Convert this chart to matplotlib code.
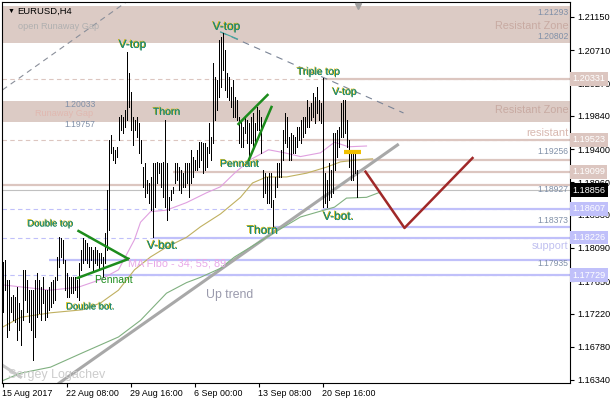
import matplotlib
matplotlib.use("Agg")
import matplotlib.pyplot as plt
import matplotlib.patheffects as pe
import matplotlib.transforms as mtransforms

plt.rcParams['font.family'] = ['Liberation Sans', 'DejaVu Sans']

# EURUSD H4 bars, high / low, bar 0 = 15 Aug 2017 00:00
bar_high = [
    1.1790, 1.1793, 1.1767, 1.1767, 1.1744, 1.1747, 1.1744, 1.1757, 1.1736, 1.1727,
    1.1780, 1.1780, 1.1767, 1.1753, 1.1753, 1.1753, 1.1767, 1.1776, 1.1767, 1.1757,
    1.1771, 1.1753, 1.1753, 1.1757, 1.1764, 1.1767, 1.1771, 1.1797, 1.1824, 1.1822,
    1.1820, 1.1793, 1.1776, 1.1771, 1.1771, 1.1771, 1.1771, 1.1767, 1.1789, 1.1806,
    1.1822, 1.1820, 1.1816, 1.1810, 1.1810, 1.1806, 1.1810, 1.1806, 1.1802, 1.1802,
    1.1797, 1.1829, 1.1886, 1.1952, 1.1959, 1.1943, 1.1939, 1.1943, 1.1983, 1.1985,
    1.1983, 1.1992, 1.2069, 1.2041, 1.2016, 1.1983, 1.1979, 1.1983, 1.1975, 1.1952,
    1.1916, 1.1922, 1.1899, 1.1895, 1.1903, 1.1922, 1.1922, 1.1923, 1.1922, 1.1922,
    1.1923, 1.1979, 1.1922, 1.1877, 1.1886, 1.1890, 1.1922, 1.1922, 1.1916, 1.1912,
    1.1908, 1.1922, 1.1922, 1.1922, 1.1939, 1.1930, 1.1926, 1.1939, 1.1949, 1.1949,
    1.1948, 1.1948, 1.1943, 1.1975, 1.1956, 1.2054, 1.2036, 1.2032, 1.2085, 1.2089,
    1.2094, 1.2071, 1.2041, 1.2036, 1.2022, 1.2032, 1.2009, 1.2005, 1.1983, 1.1979,
    1.1969, 1.1983, 1.1979, 1.1975, 1.1983, 1.1988, 1.1975, 1.1996, 1.1992, 1.1983,
    1.1912, 1.1908, 1.1903, 1.1908, 1.1908, 1.1873, 1.1903, 1.1922, 1.1922, 1.1939,
    1.1965, 1.1988, 1.1983, 1.1956, 1.1961, 1.1959, 1.1956, 1.1969, 1.1969, 1.1979,
    1.1983, 1.1983, 1.2005, 1.1996, 1.2001, 1.2014, 1.2009, 1.2022, 1.2005, 1.2001,
    1.2034, 1.1908, 1.1899, 1.1922, 1.1912, 1.1961, 1.1961, 1.1965, 1.1969, 1.2001,
    1.2005, 1.2005, 1.1979, 1.1952, 1.1935, 1.1939, 1.1935, 1.1912,
]
bar_low = [
    1.1724, 1.1753, 1.1691, 1.1700, 1.1724, 1.1714, 1.1711, 1.1687, 1.1700, 1.1680,
    1.1714, 1.1740, 1.1724, 1.1711, 1.1700, 1.1661, 1.1691, 1.1718, 1.1723, 1.1714,
    1.1736, 1.1714, 1.1718, 1.1727, 1.1731, 1.1736, 1.1740, 1.1767, 1.1784, 1.1797,
    1.1789, 1.1753, 1.1744, 1.1744, 1.1749, 1.1749, 1.1753, 1.1744, 1.1740, 1.1780,
    1.1789, 1.1793, 1.1789, 1.1784, 1.1793, 1.1780, 1.1789, 1.1786, 1.1780, 1.1789,
    1.1771, 1.1789, 1.1806, 1.1833, 1.1935, 1.1926, 1.1922, 1.1930, 1.1952, 1.1965,
    1.1961, 1.1969, 1.1979, 1.1996, 1.1965, 1.1945, 1.1965, 1.1956, 1.1935, 1.1922,
    1.1890, 1.1877, 1.1882, 1.1869, 1.1859, 1.1824, 1.1863, 1.1895, 1.1908, 1.1890,
    1.1877, 1.1863, 1.1846, 1.1859, 1.1873, 1.1882, 1.1895, 1.1899, 1.1886, 1.1882,
    1.1890, 1.1890, 1.1895, 1.1877, 1.1895, 1.1903, 1.1912, 1.1912, 1.1916, 1.1926,
    1.1908, 1.1912, 1.1916, 1.1935, 1.1926, 1.1948, 1.1979, 1.1992, 1.2009, 1.2022,
    1.2045, 1.2018, 1.2009, 1.2005, 1.1996, 1.1983, 1.1983, 1.1979, 1.1948, 1.1943,
    1.1943, 1.1961, 1.1948, 1.1926, 1.1948, 1.1943, 1.1948, 1.1965, 1.1965, 1.1935,
    1.1877, 1.1882, 1.1869, 1.1869, 1.1863, 1.1837, 1.1877, 1.1890, 1.1903, 1.1903,
    1.1926, 1.1948, 1.1943, 1.1926, 1.1926, 1.1935, 1.1935, 1.1943, 1.1952, 1.1948,
    1.1956, 1.1961, 1.1969, 1.1969, 1.1979, 1.1983, 1.1975, 1.1988, 1.1979, 1.1975,
    1.1863, 1.1869, 1.1863, 1.1873, 1.1877, 1.1882, 1.1912, 1.1930, 1.1943, 1.1956,
    1.1956, 1.1961, 1.1943, 1.1916, 1.1899, 1.1899, 1.1908, 1.1877,
]
last_price = 1.18856

date_ticks = [0, 32, 64, 96, 128, 160]
date_labels = ['15 Aug 2017', '22 Aug 08:00', '29 Aug 16:00', '6 Sep 00:00',
               '13 Sep 08:00', '20 Sep 16:00']
price_ticks = [1.21150, 1.20710, 1.20270, 1.19840, 1.19400, 1.18960,
               1.18530, 1.18090, 1.17650, 1.17220, 1.16780, 1.16340]

# moving averages (bar index, price)
ma34_idx = [0, 24, 38, 49, 58, 66, 69, 74, 82, 92, 102, 109, 116, 124, 133, 141, 149, 159, 166, 173, 182]
ma34_val = [1.1760, 1.1753, 1.1757, 1.1767, 1.1780, 1.1820, 1.1843, 1.1857, 1.1859, 1.1869, 1.1882,
            1.1890, 1.1908, 1.1926, 1.1939, 1.1935, 1.1930, 1.1935, 1.1949, 1.1943, 1.1944]
ma55_idx = [0, 9, 24, 40, 49, 58, 66, 74, 82, 92, 99, 109, 119, 125, 132, 142, 152, 162, 169, 179, 185]
ma55_val = [1.1704, 1.1717, 1.1723, 1.1727, 1.1736, 1.1753, 1.1780, 1.1797, 1.1810, 1.1823, 1.1837,
            1.1854, 1.1876, 1.1895, 1.1903, 1.1903, 1.1908, 1.1916, 1.1923, 1.1926, 1.1927]
ma89_idx = [0, 9, 24, 40, 58, 69, 82, 92, 99, 109, 116, 132, 149, 166, 172, 182, 189]
ma89_val = [1.1633, 1.1643, 1.1651, 1.1670, 1.1691, 1.1713, 1.1749, 1.1763, 1.1770, 1.1782, 1.1797,
            1.1823, 1.1850, 1.1863, 1.1875, 1.1876, 1.1883]

# zones and levels
zone_top = [1.20802, 1.21293]
zone_gap = [1.19757, 1.20033]
res_levels = [1.20331, 1.19523, 1.19256, 1.19099, 1.18927]
res_from = [160, 149, 125, 85, -1]
res_dashed = [1.20331, 1.19523]
sup_levels = [1.18607, 1.18373, 1.18226, 1.17935, 1.17729]
sup_from = [160, 135, 75, 23, 50]
sup_dashed = [1.18607, 1.18226, 1.17729]

# drawn objects (bar index, price)
uptrend_x = [28.4, 197.5]
uptrend_y = [1.1630, 1.19454]
channel_x = [0, 62]
channel_y = [1.20183, 1.21350]
downtrend_x = [109, 200.5]
downtrend_y = [1.20951, 1.19878]
old_line_x = [-1, 9]
old_line_y = [1.16552, 1.16380]
pennant1_x = [[38, 63], [37.5, 63]]
pennant1_y = [[1.18314, 1.17943], [1.17691, 1.17943]]
pennant2_x = [[118, 132.5], [122.5, 134.5]]
pennant2_y = [[1.19732, 1.20116], [1.19215, 1.19957]]
zigzag_x = [181.5, 201, 235]
zigzag_y = [1.19100, 1.18354, 1.19281]
mark_x = [170.5, 179]
mark_y = [1.19361, 1.19361]

patterns = [
    ('V-top', 65, 1.20779, 8.5), ('V-top', 112, 1.21017, 8.5), ('Triple top', 158, 1.20421, 7.5),
    ('V-top', 171, 1.20156, 7.5), ('Thorn', 82, 1.19891, 7.5), ('Pennant', 118.5, 1.19202, 7.5),
    ('Thorn', 130, 1.18314, 8.5), ('V-bot.', 168, 1.18500, 8.5), ('V-bot.', 80, 1.18116, 8.5),
    ('Double top', 24, 1.18407, 6.8), ('Double bot.', 44, 1.17307, 6.8),
]

ZONE = '#dccbc5'
PINK = '#dcc6c0'
LAV = '#c0c0fa'

fig = plt.figure(figsize=(6.1, 4.0), dpi=100)
ax = fig.add_axes([2 / 610, 17 / 400, 568 / 610, 381 / 400])
ax.set_xlim(-0.25, 283.75)
ax.set_ylim(1.16300, 1.21348)

ax.axhspan(zone_top[0], zone_top[1], color=ZONE, lw=0, zorder=0)
ax.axhspan(zone_gap[0], zone_gap[1], color=ZONE, lw=0, zorder=0)

for lv in res_dashed:
    ax.axhline(lv, color=PINK, lw=0.8, ls=(0, (4, 3)), zorder=1)
for lv in sup_dashed:
    ax.axhline(lv, color=LAV, lw=0.8, ls=(0, (4, 3)), zorder=1)
for lv, st in zip(res_levels, res_from):
    ax.plot([st, 290], [lv, lv], color=PINK, lw=1.6, zorder=1, solid_capstyle='butt')
for lv, st in zip(sup_levels, sup_from):
    ax.plot([st, 290], [lv, lv], color=LAV, lw=1.6, zorder=1, solid_capstyle='butt')
ax.axhline(last_price, color='#c0c0c0', lw=0.8, zorder=1)

ax.plot(uptrend_x, uptrend_y, color='#a8a8a8', lw=2.2, zorder=2)
ax.plot(old_line_x, old_line_y, color='#c8c8c8', lw=2.2, zorder=2)
ax.plot(channel_x, channel_y, color='#8a8f9a', lw=0.8, ls=(0, (5, 4)), zorder=2)
ax.plot(downtrend_x, downtrend_y, color='#7a8496', lw=0.8, ls=(0, (6, 5)), zorder=2)
ax.plot(downtrend_x[:1] + [117.5], downtrend_y[:1] + [1.20858], color='#40a8a0', lw=0.8, zorder=2)

ax.plot(ma34_idx, ma34_val, color='#e0a0e0', lw=0.8, zorder=2)
ax.plot(ma55_idx, ma55_val, color='#c0b060', lw=0.8, zorder=2)
ax.plot(ma89_idx, ma89_val, color='#80b080', lw=0.8, zorder=2)

bars = list(range(len(bar_high)))
ax.vlines(bars, bar_low, bar_high, colors='black', lw=0.72, antialiased=False, zorder=3)

for xs, ys in zip(pennant1_x + pennant2_x, pennant1_y + pennant2_y):
    ax.plot(xs, ys, color='#1c8c1c', lw=1.8, zorder=4)
ax.plot(zigzag_x, zigzag_y, color='#a02828', lw=1.8, zorder=4)
ax.plot(mark_x, mark_y, color='#f0c000', lw=3, zorder=4, solid_capstyle='butt')

shadow = [pe.withSimplePatchShadow(offset=(-0.6, 0.6), shadow_rgbFace='#d8b400', alpha=1.0), pe.Normal()]
for txt, bx, py, fs in patterns:
    ax.text(bx, py, txt, color='#208a70', fontsize=fs, ha='center', va='center',
            path_effects=shadow, zorder=5)
ax.text(55.5, 1.17665, 'Pennant', color='#1c8c1c', fontsize=7.5, ha='center', va='center', zorder=5)
ax.text(62.5, 1.17877, 'MA Fibo - 34; 55; 89', color='#e8a8e8', fontsize=7.8, ha='left', va='center', zorder=5)
ax.text(101.5, 1.17466, 'Up trend', color='#9a9aac', fontsize=8.8, ha='left', va='center', zorder=5)
ax.text(2.5, 1.16406, 'Sergey Logachev', color='#cccccc', fontsize=9, ha='left', va='center', zorder=5)
ax.text(7.5, 1.21017, 'open Runaway Gap', color='#b0b0b0', fontsize=6.6, ha='left', va='center', zorder=5)
ax.text(46.5, 1.19984, '1.20033', color='#8090a8', fontsize=6.2, ha='right', va='center', zorder=5)
ax.text(45.5, 1.19865, 'Runaway Gap', color='#e0b8b0', fontsize=6.6, ha='right', va='center', zorder=5)
ax.text(46.5, 1.19720, '1.19757', color='#8090a8', fontsize=6.2, ha='right', va='center', zorder=5)

# right side zone texts
right_texts = [
    ('1.21293', 1.21203, '#8090a8', 6.2), ('Resistant Zone', 1.21031, '#c8aaa2', 7.8),
    ('1.20802', 1.20885, '#8090a8', 6.2), ('Resistant Zone', 1.19918, '#c8aaa2', 7.8),
    ('resistant', 1.19613, '#d8b8b0', 8), ('1.19256', 1.19361, '#8090a8', 6.2),
    ('1.18927', 1.18858, '#8090a8', 6.2), ('1.18373', 1.18447, '#8090a8', 6.2),
    ('support', 1.18116, '#c0c0f0', 7.8), ('1.17935', 1.17877, '#8090a8', 6.2),
]
for txt, py, col, fs in right_texts:
    ax.text(283, py, txt, color=col, fontsize=fs, ha='right', va='center', zorder=5)

ax.text(0.009, 0.985, '\u25BC', transform=ax.transAxes, fontsize=5, ha='left', va='top', color='black')
ax.text(0.026, 0.988, 'EURUSD,H4', transform=ax.transAxes, fontsize=6.8, ha='left', va='top',
        color='black')
ax.plot([177.5], [1.2130], marker='v', color='#a0a0a0', ms=5, zorder=6, clip_on=False)

# axes
for sp in ax.spines.values():
    sp.set_color('black')
    sp.set_linewidth(0.8)
ax.yaxis.tick_right()
ax.set_yticks(price_ticks)
ax.set_yticklabels(['%.5f' % t for t in price_ticks])
ax.set_xticks(date_ticks)
ax.set_xticklabels(date_labels, ha='left')
ax.tick_params(axis='y', labelsize=6.6, length=3, pad=2, width=0.8)
ax.tick_params(axis='x', labelsize=6.4, length=3, pad=1, width=0.8)

# coloured price tags on the scale
trans = mtransforms.blended_transform_factory(ax.transAxes, ax.transData)
tags = [(1.20331, PINK, 'white'), (1.19523, PINK, 'white'), (1.19099, PINK, 'white'),
        (last_price, 'black', 'white'), (1.18607, LAV, 'white'), (1.18226, LAV, 'white'),
        (1.17729, LAV, 'white')]
for py, bg, fg in tags:
    ax.text(1.004, py, '%.5f' % py, transform=trans, color=fg, fontsize=6.6, ha='left', va='center',
            clip_on=False, zorder=7,
            bbox=dict(boxstyle='square,pad=0.25', fc=bg, ec='none'))

fig.savefig('out.png', dpi=100)
